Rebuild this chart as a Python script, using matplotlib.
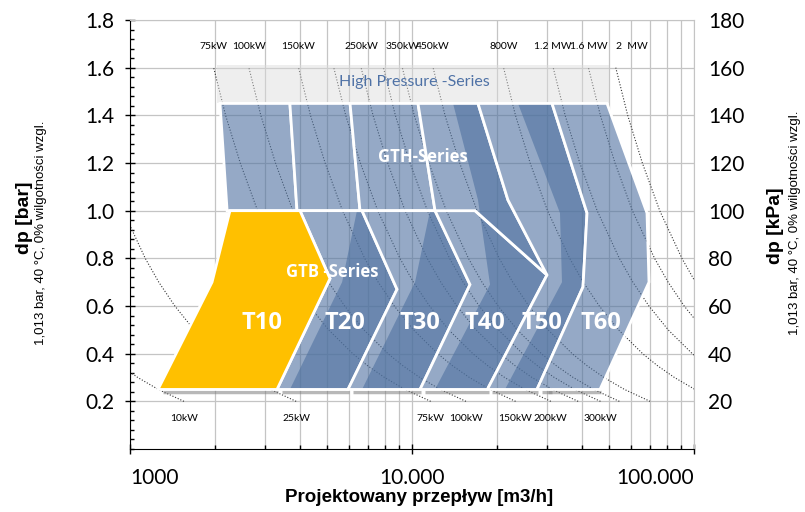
import matplotlib.pyplot as plt
from matplotlib.patches import Polygon
from matplotlib.ticker import MultipleLocator, LogLocator, NullFormatter

# power isolines: flow [m3/h] per kW of compressor power at each pressure step
curve_dp = [0.2, 0.25, 0.3, 0.35, 0.4, 0.5, 0.6, 0.7, 0.8, 1.0, 1.2, 1.4, 1.6]
flow_per_kw = [155.3, 126.0, 106.6, 92.7, 82.2, 67.5, 57.7, 50.6, 45.3, 37.8, 32.8, 29.1, 26.4]
curve_kw = [10, 25, 75, 100, 150, 200, 250, 300, 350, 450, 800, 1200, 1600, 2000]

top_kw = [75, 100, 150, 250, 350, 450, 800, 1200, 1600, 2000]
top_labels = ['75kW', '100kW', '150kW', '250kW', '350kW', '450kW', '800W', '1.2 MW', '1.6 MW', '2  MW']
bottom_kw = [10, 25, 75, 100, 150, 200, 300]
bottom_labels = ['10kW', '25kW', '75kW', '100kW', '150kW', '200kW', '300kW']

# High pressure band (flow, dp)
hp_q = [2035, 49960]
hp_dp = [1.45, 1.61]

# GTH upper columns
gth1_q = [2085, 3690, 3910, 2210]
gth2_q = [3690, 6030, 6540, 3910]
gth3_q = [6030, 10500, 12070, 6540]
gth_dp = [1.45, 1.45, 1.0, 1.0]

# GTB chevrons and full-height models
t10_q = [1257, 1954, 2262, 4007, 5119, 3321]
t10_dp = [0.25, 0.70, 1.0, 1.0, 0.715, 0.25]
t20_q = [4007, 6650, 8850, 5930, 3320, 5120]
t20_dp = [1.0, 1.0, 0.67, 0.25, 0.25, 0.715]
t30_q = [6650, 12070, 16060, 10680, 5930, 8850]
t30_dp = [1.0, 1.0, 0.69, 0.25, 0.25, 0.67]
t40_q = [12070, 16730, 30110, 18500, 10680, 16060]
t40_dp = [1.0, 1.0, 0.73, 0.25, 0.25, 0.69]
t40h_q = [10500, 17140, 21890, 30110, 16730, 12070]
t40h_dp = [1.45, 1.45, 1.045, 0.73, 1.0, 1.0]
t50_q = [17140, 31370, 41750, 40400, 27750, 18500, 30110, 21890]
t50_dp = [1.45, 1.45, 0.99, 0.68, 0.25, 0.25, 0.73, 1.045]
t60_q = [31370, 49150, 68130, 69250, 46420, 27750, 40400, 41750]
t60_dp = [1.45, 1.45, 0.99, 0.70, 0.25, 0.25, 0.68, 0.99]

# darker overlap bands
d20_q = [6380, 6650, 8850, 5930, 3690, 5650]
d20_dp = [1.0, 1.0, 0.67, 0.25, 0.25, 0.70]
d30_q = [11590, 12070, 16060, 10680, 6650, 10250]
d30_dp = [1.0, 1.0, 0.69, 0.25, 0.25, 0.70]
d40_q = [13980, 17140, 21890, 30110, 18500, 12070, 18910, 17140]
d40_dp = [1.45, 1.45, 1.045, 0.73, 0.25, 0.25, 0.69, 1.045]
d50_q = [23760, 31370, 41750, 40400, 27750, 21360, 34030, 33480]
d50_dp = [1.45, 1.45, 0.99, 0.68, 0.25, 0.25, 0.70, 0.99]

t_names = ['T10', 'T20', 'T30', 'T40', 'T50', 'T60']
t_label_q = [2940, 5790, 10680, 18150, 28900, 46770]
t_label_dp = 0.53

blue = (0.31, 0.443, 0.627, 0.6)
yellow = '#FFC000'

fig = plt.figure(figsize=(8.05, 5.12), dpi=100)
ax = fig.add_axes([0.1615, 0.123, 0.7006, 0.8379])
ax.set_xscale('log')
ax.set_xlim(1000, 100000)
ax.set_ylim(0, 1.8)

ax.grid(which='both', axis='x', color='#c4c4c4', lw=0.9)
ax.grid(which='major', axis='y', color='#c4c4c4', lw=0.9)
ax.set_axisbelow(True)

for kw in curve_kw:
    ax.plot([kw * f for f in flow_per_kw], curve_dp, color='#333333', lw=0.8,
            ls=(0, (1, 1.6)), zorder=1)

ax.add_patch(Polygon([(hp_q[0], hp_dp[0]), (hp_q[1], hp_dp[0]), (hp_q[1], hp_dp[1]), (hp_q[0], hp_dp[1])],
                     fc=(0.86, 0.86, 0.86, 0.45), ec='none', zorder=2))

for q, dp in [(d20_q, d20_dp), (d30_q, d30_dp), (d40_q, d40_dp), (d50_q, d50_dp)]:
    ax.add_patch(Polygon(list(zip(q, dp)), fc=blue, ec='none', zorder=3))

shapes = [(gth1_q, gth_dp), (gth2_q, gth_dp), (gth3_q, gth_dp), (t20_q, t20_dp), (t30_q, t30_dp),
          (t40_q, t40_dp), (t40h_q, t40h_dp), (t50_q, t50_dp), (t60_q, t60_dp)]

# soft shadow under the bottom edges of the GTB shapes
for q, dp in shapes[3:] + [(t10_q, t10_dp)]:
    low = [x for x, y in zip(q, dp) if y == min(dp)]
    ax.plot([min(low) * 1.04, max(low) * 1.01], [0.238, 0.238], color='#7f7f7f', lw=2.5,
            alpha=0.55, solid_capstyle='butt', zorder=2.5)

for q, dp in shapes:
    ax.add_patch(Polygon(list(zip(q, dp)), fc=blue, ec='white', lw=2, joinstyle='miter', zorder=4))

ax.add_patch(Polygon(list(zip(t10_q, t10_dp)), fc=yellow, ec='white', lw=2, joinstyle='miter', zorder=5))

for name, q in zip(t_names, t_label_q):
    ax.text(q, t_label_dp, name, color='white', fontsize=17, fontweight='bold', family='Open Sans',
            ha='center', va='center', zorder=6)
ax.text(5200, 0.743, 'GTB -Series', color='white', fontsize=12, fontweight='bold', family='Open Sans',
        ha='center', va='center', zorder=6)
ax.text(10940, 1.225, 'GTH-Series', color='white', fontsize=12, fontweight='bold', family='Open Sans',
        ha='center', va='center', zorder=6)
ax.text(10160, 1.54, 'High Pressure -Series', color='#4F72A6', fontsize=11.5, family='Lato',
        ha='center', va='center', zorder=6)

for kw, lab in zip(top_kw, top_labels):
    ha = 'left' if kw == top_kw[-1] else 'center'
    ax.text(kw * flow_per_kw[-1], 1.69, lab, fontsize=7.5, family='Lato', ha=ha, va='center')
for kw, lab in zip(bottom_kw, bottom_labels):
    ax.text(kw * flow_per_kw[0], 0.13, lab, fontsize=7.5, family='Lato', ha='center', va='center')

# axes styling
ax.set_yticks([0.2, 0.4, 0.6, 0.8, 1.0, 1.2, 1.4, 1.6, 1.8])
ax.set_yticklabels(['0.2', '0.4', '0.6', '0.8', '1.0', '1.2', '1.4', '1.6', '1.8'], family='Lato', fontsize=15)
ax.yaxis.set_minor_locator(MultipleLocator(0.04))
ax.set_xticks([1000, 10000, 100000])
ax.set_xticklabels(['1000', '10.000', '100.000'], family='Lato', fontsize=15)
xl = ax.get_xticklabels()
xl[0].set_ha('left')
xl[2].set_ha('right')
ax.xaxis.set_minor_locator(LogLocator(base=10, subs=range(2, 10)))
ax.xaxis.set_minor_formatter(NullFormatter())
ax.tick_params(which='major', direction='inout', length=7, width=1, pad=8)
ax.tick_params(which='minor', direction='in', length=3, width=1)
ax.tick_params(axis='x', which='major', pad=10)
ax.spines['top'].set_color('#c4c4c4')
ax.spines['right'].set_color('#c4c4c4')

ax2 = ax.twinx()
ax2.set_ylim(0, 180)
ax2.set_yticks(range(20, 181, 20))
ax2.set_yticklabels([str(v) for v in range(20, 181, 20)], family='Lato', fontsize=15)
ax2.tick_params(length=0, pad=10)
for s in ax2.spines.values():
    s.set_visible(False)

fig.text(0.52, 0.028, 'Projektowany przepływ [m3/h]', fontsize=13.5, fontweight='bold',
         family='Liberation Sans', ha='center', va='center')
fig.text(0.031, 0.574, 'dp [bar]', fontsize=14, fontweight='bold', family='Liberation Sans',
         rotation=90, ha='center', va='center')
fig.text(0.051, 0.545, '1,013 bar, 40 °C, 0% wilgotności wzgl.', fontsize=9.5, family='Liberation Sans',
         rotation=90, ha='center', va='center')
fig.text(0.963, 0.56, 'dp [kPa]', fontsize=14, fontweight='bold', family='Liberation Sans',
         rotation=90, ha='center', va='center')
fig.text(0.988, 0.564, '1,013 bar, 40 °C, 0% wilgotności wzgl.', fontsize=9.5, family='Liberation Sans',
         rotation=90, ha='center', va='center')

fig.savefig('out.png', dpi=100)
